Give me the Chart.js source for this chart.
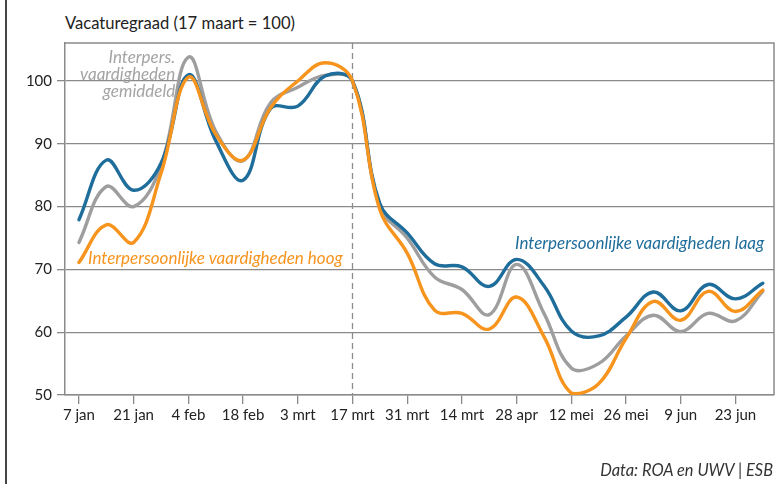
<!DOCTYPE html>
<html>
<head>
<meta charset="utf-8">
<script src="https://cdn.jsdelivr.net/npm/chart.js@4"></script>
<style>
html, body { margin: 0; padding: 0; background: #fff; }
#wrap { position: relative; width: 775px; height: 484px; overflow: hidden; font-family: Lato, sans-serif; }
#frame { position: absolute; left: 5px; top: 0; width: 1.5px; height: 484px; background: #444; }
#title { position: absolute; left: 65px; top: 13px; font-size: 16.6px; color: #222; }
#source { position: absolute; right: 2px; top: 460px; font-size: 16.4px; font-style: italic; color: #333; }
canvas { position: absolute; left: 0; top: 0; }
</style>
</head>
<body>
<div id="wrap">
  <div id="frame"></div>
  <div id="title">Vacaturegraad (17 maart = 100)</div>
  <canvas id="chart" width="775" height="484"></canvas>
  <div id="source">Data: ROA en UWV | ESB</div>
</div>
<script>
// weken: index 0 = 7 jan, 1 punt per week
const weeks = [0,1,2,3,4,5,6,7,8,9,10,11,12,13,14,15,16,17,18,19,20,21,22,23,24,25];
const tickIdx = [0,2,4,6,8,10,12,14,16,18,20,22,24];
const tickLabels = ['7 jan','21 jan','4 feb','18 feb','3 mrt','17 mrt','31 mrt','14 mrt','28 apr','12 mei','26 mei','9 jun','23 jun'];
const yTicks = [50,60,70,80,90,100];

const laag = [77.9,87.4,82.6,86.9,101.0,90.5,84.2,95.6,96.0,100.8,100,80.5,75.8,70.9,70.4,67.3,71.6,67.4,60.2,59.4,62.4,66.4,63.4,67.6,65.3,67.8];
const gemiddeld = [74.3,83.2,80.0,86.5,103.8,92.0,87.3,96.5,99.0,100.9,100,80.0,75.0,68.8,66.8,62.8,70.8,63.0,54.3,55.0,59.4,62.7,60.1,63.0,61.8,66.5];
const hoog = [71.1,77.1,74.3,85.3,100.6,91.5,87.4,95.7,100.0,102.9,100,79.5,72.6,63.5,63.0,60.5,65.6,59.3,50.3,51.8,59.0,64.9,61.9,66.5,63.3,66.7];

const BLUE = '#1f6d9b', ORANGE = '#f7941e', GRAY = '#9e9e9e';
const AXIS = '#8a8a8a';

function pts(arr) { return arr.map((v, i) => ({ x: weeks[i], y: v })); }

// stippellijn op 17 mrt + kader boven/rechts
const framePlugin = {
    id: 'frame',
    beforeDatasetsDraw(chart) {
        const { ctx, chartArea: a, scales } = chart;
        const x = scales.x.getPixelForValue(10);
        ctx.save();
        ctx.strokeStyle = '#8c8c8c'; ctx.lineWidth = 1.3;
        ctx.setLineDash([6, 4]);
        ctx.beginPath(); ctx.moveTo(x, a.top); ctx.lineTo(x, a.bottom); ctx.stroke();
        ctx.setLineDash([]);
        ctx.strokeStyle = AXIS; ctx.lineWidth = 1.5;
        ctx.beginPath(); ctx.moveTo(a.left, a.top); ctx.lineTo(a.right, a.top); ctx.lineTo(a.right, a.bottom); ctx.stroke();
        ctx.restore();
    },
    afterDatasetsDraw(chart) {
        const { ctx, scales } = chart;
        const sx = scales.x, sy = scales.y;
        ctx.save();
        ctx.font = 'italic 17px Lato';
        ctx.textBaseline = 'middle';
        // gemiddeld
        ctx.fillStyle = '#a4a4a4'; ctx.textAlign = 'right';
        ['Interpers.', 'vaardigheden', 'gemiddeld'].forEach((t, i) => {
            ctx.fillText(t, sx.getPixelForValue(3.52), sy.getPixelForValue([103.8, 101.1, 98.3][i]));
        });
        // hoog
        ctx.fillStyle = ORANGE; ctx.textAlign = 'left';
        ctx.fillText('Interpersoonlijke vaardigheden hoog', sx.getPixelForValue(0.33), sy.getPixelForValue(71.8));
        // laag
        ctx.fillStyle = BLUE;
        ctx.fillText('Interpersoonlijke vaardigheden laag', sx.getPixelForValue(15.94), sy.getPixelForValue(74.2));
        ctx.restore();
    }
};

const ctx = document.getElementById('chart').getContext('2d');
new Chart(ctx, {
    type: 'line',
    data: {
        datasets: [
            { label: 'hoog', data: pts(hoog), borderColor: ORANGE },
            { label: 'laag', data: pts(laag), borderColor: BLUE },
            { label: 'gemiddeld', data: pts(gemiddeld), borderColor: GRAY }
        ]
    },
    options: {
        responsive: false, animation: false, devicePixelRatio: 1,
        layout: { padding: { top: 43, right: 1, left: 0, bottom: 0 } },
        elements: {
            line: { borderWidth: 3.4, tension: 0.4, fill: false, borderCapStyle: 'round' },
            point: { radius: 0 }
        },
        plugins: { legend: { display: false }, tooltip: { enabled: false } },
        scales: {
            x: {
                type: 'linear', min: -0.51, max: 25.41,
                afterBuildTicks: s => { s.ticks = tickIdx.map(v => ({ value: v })); },
                afterFit: s => { s.height = 89; },
                ticks: {
                    autoSkip: false, maxRotation: 0, padding: 2,
                    color: '#222', font: { family: 'Lato', size: 15 },
                    callback: (v, i) => tickLabels[i]
                },
                grid: { drawOnChartArea: false, tickLength: 9, color: AXIS, lineWidth: 1.3 },
                border: { color: AXIS, width: 1.5 }
            },
            y: {
                min: 50, max: 106.05,
                afterBuildTicks: s => { s.ticks = yTicks.map(v => ({ value: v })); },
                afterFit: s => { s.width = 65; },
                ticks: { padding: 5, color: '#222', font: { family: 'Lato', size: 15 } },
                grid: { color: AXIS, lineWidth: 1.3, tickLength: 8 },
                border: { color: AXIS, width: 1.5 }
            }
        }
    },
    plugins: [framePlugin]
});
</script>
</body>
</html>
